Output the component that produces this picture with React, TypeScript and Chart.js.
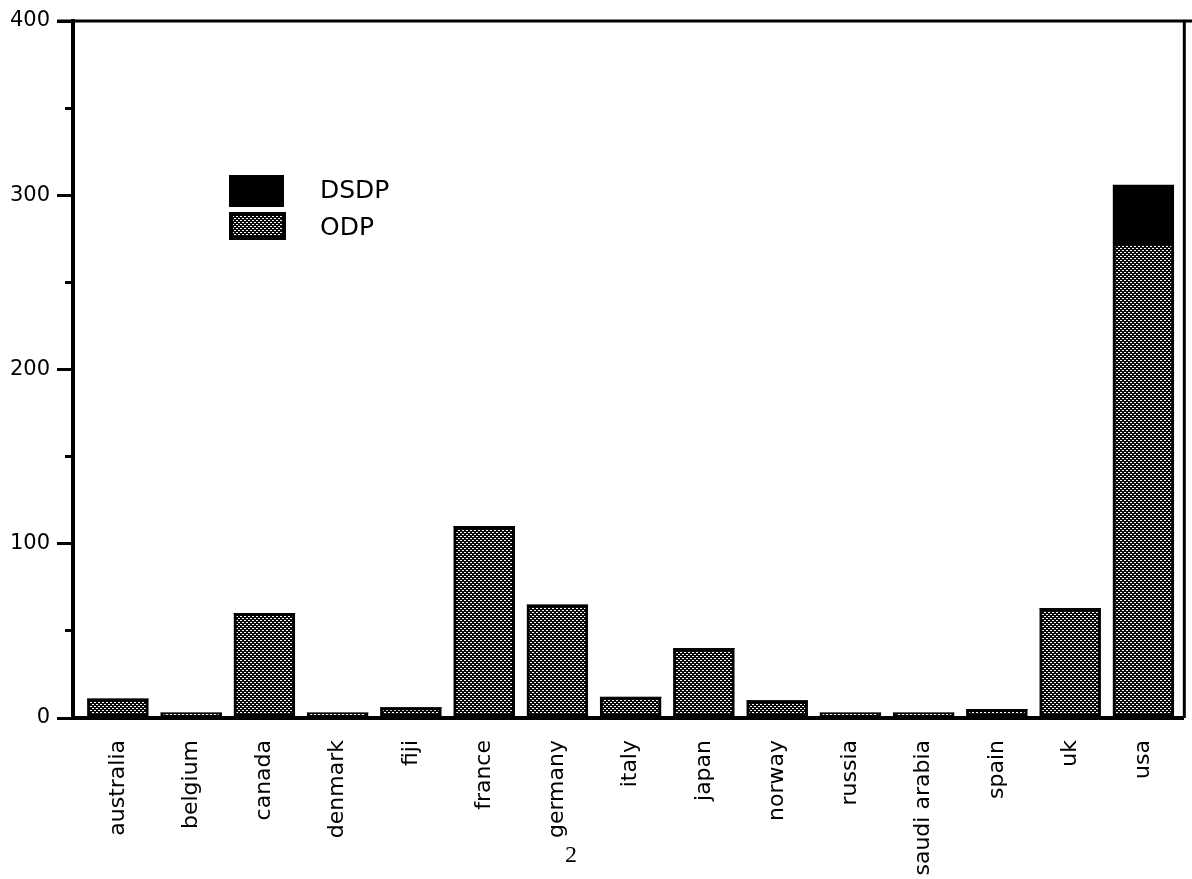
import React, { useEffect, useRef } from 'react';
import { Chart, registerables } from 'chart.js';

Chart.register(...registerables);

const countries = [
  'australia', 'belgium', 'canada', 'denmark', 'fiji', 'france', 'germany',
  'italy', 'japan', 'norway', 'russia', 'saudi arabia', 'spain', 'uk', 'usa',
];
const odpValues = [11, 3, 60, 3, 6, 110, 65, 12, 40, 10, 3, 3, 5, 63, 273];
const dsdpValues = [0, 0, 0, 0, 0, 0, 0, 0, 0, 0, 0, 0, 0, 0, 33];
const seriesLabels = ['DSDP', 'ODP'];
const yMin = 0;
const yMax = 400;
const yMajorStep = 100;
const yMinorStep = 50;
const pageMark = '2';

function makeDots(): CanvasPattern | string {
  const c = document.createElement('canvas');
  c.width = 4;
  c.height = 4;
  const g = c.getContext('2d');
  if (!g) return '#555';
  g.fillStyle = '#0a0a0a';
  g.fillRect(0, 0, 4, 4);
  g.fillStyle = '#fff';
  g.fillRect(0, 0, 2, 1);
  g.fillRect(2, 2, 2, 1);
  return g.createPattern(c, 'repeat') || '#555';
}

export default function App() {
  const ref = useRef<HTMLCanvasElement | null>(null);

  useEffect(() => {
    const canvas = ref.current;
    if (!canvas) return;
    const dots = makeDots();

    const decor = {
      id: 'decor',
      afterDraw(chart: any) {
        const { ctx, chartArea } = chart;
        ctx.save();
        ctx.strokeStyle = '#000';
        ctx.lineWidth = 3;
        ctx.beginPath();
        ctx.moveTo(chartArea.left - 16, chartArea.top);
        ctx.lineTo(chart.width, chartArea.top);
        ctx.stroke();
        ctx.beginPath();
        ctx.moveTo(chartArea.right + 1, chartArea.top);
        ctx.lineTo(chartArea.right + 1, chartArea.bottom);
        ctx.stroke();

        // legend
        const lx = chartArea.left + 156;
        ctx.fillStyle = '#000';
        ctx.fillRect(lx, 175, 55, 32);
        ctx.fillStyle = dots as any;
        ctx.fillRect(lx + 2, 214, 53, 24);
        ctx.lineWidth = 4;
        ctx.strokeRect(lx + 2, 214, 53, 24);
        ctx.fillStyle = '#000';
        ctx.font = '25px "DejaVu Sans"';
        ctx.textBaseline = 'middle';
        ctx.textAlign = 'left';
        ctx.fillText(seriesLabels[0], lx + 91, 191);
        ctx.fillText(seriesLabels[1], lx + 91, 228);

        ctx.font = '24px "Liberation Serif"';
        ctx.textAlign = 'center';
        ctx.fillText(pageMark, 571, 856);
        ctx.restore();
      },
    };

    const chart = new Chart(canvas, {
      type: 'bar',
      data: {
        datasets: [
          {
            label: seriesLabels[1],
            data: odpValues.map((v, i) => ({ x: i, y: v })),
            backgroundColor: dots as any,
            borderColor: '#000',
            borderWidth: 3,
            borderSkipped: false,
            barThickness: 61,
          },
          {
            label: seriesLabels[0],
            data: dsdpValues.map((v, i) => ({ x: i, y: v })),
            backgroundColor: '#000',
            borderColor: '#000',
            borderWidth: (c: any) => (c.raw && c.raw.y > 0 ? 3 : 0),
            borderSkipped: false,
            barThickness: 61,
          },
        ],
      },
      options: {
        responsive: false,
        animation: false,
        devicePixelRatio: 1,
        layout: { padding: { top: 21, right: 6, left: 0, bottom: 0 } },
        plugins: { legend: { display: false }, tooltip: { enabled: false } },
        scales: {
          x: {
            type: 'linear',
            offset: false,
            stacked: true,
            min: -0.613,
            max: 14.545,
            grid: { display: false, drawTicks: false, offset: false },
            border: { display: true, color: '#000', width: 4 },
            ticks: {
              autoSkip: false,
              maxRotation: 90,
              minRotation: 90,
              padding: 22,
              color: '#000',
              font: { family: '"DejaVu Sans"', size: 22 },
              callback: (v: any) => countries[v as number] ?? '',
            },
            afterBuildTicks: (s: any) => {
              s.ticks = countries.map((_, i) => ({ value: i }));
            },
            afterFit: (s: any) => {
              s.height = 879 - 718;
            },
          },
          y: {
            stacked: true,
            min: yMin,
            max: yMax,
            weight: 1,
            ticks: {
              stepSize: yMajorStep,
              padding: 7,
              color: '#000',
              font: { family: '"DejaVu Sans"', size: 21 },
            },
            grid: { drawOnChartArea: false, drawTicks: true, tickLength: 16, lineWidth: 3, color: '#000' },
            border: { display: true, color: '#000', width: 4 },
            afterFit: (s: any) => {
              s.width = 73;
            },
          },
          y2: {
            position: 'left',
            min: yMin,
            max: yMax,
            weight: 0,
            ticks: { stepSize: yMinorStep, display: false },
            grid: { drawOnChartArea: false, drawTicks: true, tickLength: 8, lineWidth: 3, color: '#000' },
            border: { display: false },
            afterFit: (s: any) => {
              s.width = 0;
            },
          },
        },
      } as any,
      plugins: [decor],
    });

    return () => chart.destroy();
  }, []);

  return (
    <div style={{ position: 'fixed', left: 0, top: 0, width: 1192, height: 879, background: '#fff' }}>
      <canvas ref={ref} width={1192} height={879} />
    </div>
  );
}
